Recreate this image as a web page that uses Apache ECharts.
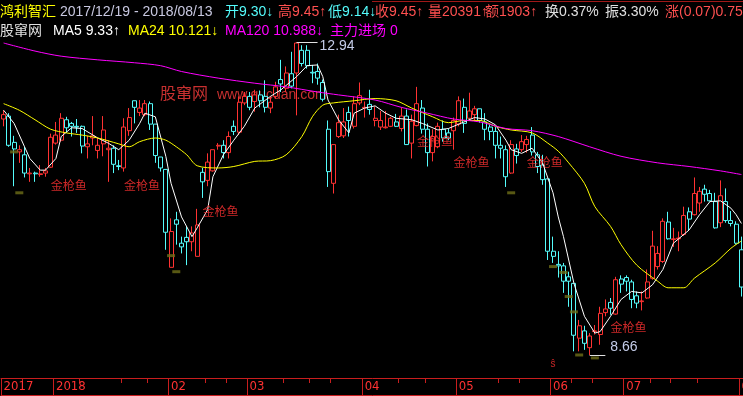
<!DOCTYPE html>
<html><head><meta charset="utf-8">
<script src="https://cdn.jsdelivr.net/npm/echarts@6/dist/echarts.min.js"></script>
<style>html,body{margin:0;padding:0;background:#000;}#c{width:743px;height:396px;}</style>
</head><body><div id="c"></div>
<script>
// ---- data ----
const openP = [11.89,11.93,11.57,11.44,11.40,11.14,11.15,11.13,11.15,11.23,11.56,11.60,11.88,11.83,11.79,11.79,11.51,11.63,11.46,11.55,11.47,11.49,11.25,11.22,11.73,12.14,11.98,11.95,12.10,11.82,11.37,11.20,9.86,10.51,10.19,10.27,10.21,10.01,11.16,11.05,11.18,11.52,11.53,11.43,11.79,11.71,12.11,12.20,12.13,12.22,12.20,12.04,12.20,12.43,12.31,12.51,12.52,12.83,12.83,12.53,12.54,12.39,11.75,11.01,11.65,11.66,11.98,11.79,12.11,12.04,12.09,11.87,11.78,11.77,11.79,11.85,11.76,11.93,11.56,11.80,12.04,11.75,11.43,11.51,11.75,11.70,11.73,11.82,12.05,11.90,11.95,12.03,11.85,11.78,11.72,11.53,11.47,11.15,11.48,11.47,11.54,11.67,11.40,11.26,11.07,10.08,9.90,9.88,9.73,9.64,8.89,8.99,8.76,8.98,8.94,9.24,9.38,9.22,9.70,9.72,9.66,9.47,9.39,9.44,9.71,9.87,9.94,10.48,10.24,10.25,10.31,10.62,10.58,10.74,10.93,10.87,10.76,10.47,10.76,10.50,10.45,10.10];
const closeP = [11.95,11.53,11.48,11.47,11.15,11.15,11.14,11.14,11.18,11.64,11.67,11.90,11.77,11.79,11.78,11.52,11.55,11.66,11.53,11.74,11.49,11.27,11.24,11.78,11.91,12.05,12.04,12.10,11.82,11.39,11.22,10.34,10.35,10.45,10.14,10.21,10.33,10.44,11.03,11.30,11.47,11.53,11.43,11.65,11.72,12.12,12.20,12.05,12.22,12.14,12.05,12.12,12.33,12.37,12.52,12.34,12.93,12.65,12.62,12.52,12.45,12.16,11.17,11.54,11.84,11.85,11.87,12.10,12.21,12.05,12.02,11.90,11.87,11.78,11.90,11.79,11.93,11.54,11.86,12.10,11.75,11.43,11.65,11.79,11.63,11.63,11.87,12.14,11.83,12.00,12.03,11.87,11.75,11.72,11.53,11.49,11.10,11.54,11.39,11.58,11.61,11.44,11.24,11.06,10.08,10.01,9.88,9.67,9.67,8.93,9.06,8.82,8.92,8.99,9.23,9.29,9.30,9.69,9.63,9.67,9.42,9.37,9.40,9.66,10.15,10.05,10.49,10.25,10.25,10.26,10.57,10.52,10.87,10.90,10.86,10.77,10.40,10.84,10.50,10.46,10.19,9.59];
const lowP = [11.79,11.51,10.97,11.29,11.09,11.03,11.03,11.10,11.10,11.22,11.54,11.58,11.70,11.65,11.70,11.42,11.35,11.53,11.35,11.38,11.03,11.15,11.19,11.17,11.66,11.83,11.93,11.93,11.74,11.29,11.17,10.10,9.86,10.17,10.05,9.89,10.08,10.01,10.81,10.97,11.17,11.47,11.35,11.35,11.67,11.67,12.08,12.01,11.99,12.05,11.98,11.97,12.17,12.26,12.26,12.31,11.94,12.61,12.58,12.38,12.36,12.13,10.96,10.87,11.63,11.63,11.65,11.76,12.08,11.91,11.95,11.79,11.74,11.76,11.78,11.78,11.72,11.54,11.35,11.79,11.69,11.24,11.31,11.49,11.58,11.60,11.47,11.79,11.70,11.87,11.87,11.84,11.60,11.60,11.35,11.35,10.96,11.14,11.28,11.44,11.43,11.39,11.15,10.99,9.96,9.92,9.72,9.51,9.32,8.71,8.71,8.73,8.66,8.94,8.80,9.19,9.21,9.21,9.51,9.53,9.30,9.30,9.27,9.43,9.69,9.83,9.92,10.24,10.14,10.08,10.29,10.37,10.57,10.62,10.76,10.76,10.39,10.41,10.47,10.42,10.17,9.46];
const highP = [12.01,11.97,11.66,11.53,11.51,11.22,11.17,11.26,11.22,11.69,11.85,11.97,11.92,11.85,11.89,11.80,11.66,11.93,11.63,11.93,11.60,11.53,11.33,11.90,12.04,12.14,12.15,12.15,12.13,11.82,11.37,11.20,10.53,10.62,10.28,10.42,10.42,10.66,11.22,11.42,11.47,11.56,11.60,11.72,11.87,12.20,12.26,12.26,12.29,12.28,12.42,12.20,12.40,12.70,12.61,12.81,12.94,12.90,12.90,12.63,12.65,12.43,11.87,11.54,11.95,12.04,12.06,12.20,12.39,12.13,12.29,12.06,12.00,12.00,11.92,11.96,12.05,12.02,11.95,12.33,12.15,11.83,11.75,11.84,11.87,11.76,11.91,12.20,12.17,12.25,12.07,12.03,11.97,11.81,11.78,11.65,11.53,11.60,11.55,11.67,11.66,11.78,11.44,11.40,11.07,10.28,10.08,9.92,9.80,9.64,9.14,9.06,8.96,9.07,9.32,9.42,9.44,9.73,9.75,9.75,9.69,9.53,9.53,9.83,10.36,10.15,10.53,10.62,10.40,10.35,10.69,10.68,11.09,10.96,10.99,10.92,10.88,11.05,10.94,10.63,10.49,10.28];

const ma5Idx = [0,2,4,5,7,8,10,11,13,15,18,20,22,24,26,27,29,31,32,34,36,37,39,40,42,44,46,48,51,53,56,58,60,61,62,64,66,67,69,71,73,75,78,80,83,85,88,90,92,94,96,97,99,101,103,105,106,107,109,111,113,114,116,118,120,122,124,126,128,131,133,135,137,139,140,141];
const ma5Val = [12.01,11.83,11.51,11.35,11.19,11.19,11.35,11.65,11.77,11.76,11.63,11.56,11.47,11.60,11.83,11.97,11.92,11.38,11.01,10.55,10.28,10.40,10.65,11.10,11.40,11.60,11.79,12.04,12.20,12.29,12.47,12.62,12.63,12.47,12.15,11.88,11.70,11.97,12.04,12.07,11.97,11.90,11.88,11.83,11.74,11.76,11.85,11.91,11.89,11.81,11.60,11.47,11.42,11.49,11.29,10.88,10.55,10.28,9.64,9.19,8.96,8.98,9.19,9.42,9.53,9.51,9.62,9.83,10.19,10.37,10.58,10.76,10.77,10.67,10.58,10.46];
const ma24Idx = [0,3,6,9,12,15,18,22,24,26,29,31,33,35,37,41,44,48,51,54,57,59,61,63,67,71,75,78,82,85,88,91,94,97,101,104,106,108,111,113,116,118,121,125,127,130,132,136,139,141];
const ma24Val = [12.10,12.01,11.88,11.75,11.70,11.67,11.63,11.55,11.51,11.58,11.63,11.60,11.51,11.40,11.25,11.22,11.24,11.31,11.32,11.40,11.65,11.92,12.08,12.11,12.14,12.17,12.14,12.04,11.92,11.84,11.87,11.87,11.79,11.74,11.70,11.56,11.45,11.29,11.01,10.69,10.42,10.17,9.89,9.67,9.58,9.58,9.71,9.92,10.12,10.22];
const ma120Idx = [0,6,11,18,25,30,34,41,48,54,60,64,71,76,81,86,91,96,101,106,112,118,125,131,137,141];
const ma120Val = [12.93,12.82,12.75,12.70,12.66,12.62,12.54,12.45,12.38,12.33,12.26,12.22,12.15,12.05,11.97,11.89,11.85,11.76,11.73,11.65,11.51,11.38,11.29,11.24,11.18,11.13];

const monthIdx = [0,10,32,47,69,87,105,119,141];
const monthLabels = ['2017','2018','02','03','04','05','06','07','08'];
const weekTickIdx = [4,15,23,28,39,43,54,59,63,76,81,95,99,109,113,124,128,133];

const signalIdx = [9,23,38,79,86,100,116];
const signalPrice = [10.98,10.98,10.62,11.58,11.29,11.29,9.04];
const signalText = '金枪鱼';

const markerIdx = [2,3,32,33,97,105,107,108,109,110,113];
const markerPrice = [11.44,10.88,10.02,9.80,10.88,9.87,9.79,9.46,9.25,8.66,8.62];
const flagIdx = [105];
const flagPrice = [8.53];

const header1 = ['鸿利智汇','2017/12/19 - 2018/08/13','开9.30↓','高9.45↑','低9.14↓','收9.45↑','量20391↑','额1903↑','换0.37%','振3.30%','涨(0.07)0.75'];
const header2 = ['股窜网','MA5 9.33↑','MA24 10.121↓','MA120 10.988↓','主力进场 0'];
const watermark = ['股窜网','www.gucuan.com'];

// ---- layout / style ----
const N = openP.length;
const cats = Array.from({length:N},(_,i)=>String(i));
const RED = '#FF3232', CYAN = '#54FCFC', AXR = '#C81E1E';
const LATIN = '"Liberation Sans", Arial, "Noto Sans CJK SC", sans-serif';
const h1x = [0,60,225,278,328,375,428,485,545,605,665];
const h1c = ['#FFFF00','#C8C8E0','#54FCFC','#FF5050','#54FCFC','#FF5050','#FF5050','#FF5050','#E0E0E0','#E0E0E0','#FF5050'];
const h2x = [0,53,128,225,330];
const h2c = ['#E0E0E0','#FFFFFF','#FFFF00','#FF00FF','#FF00FF'];

function sparse(idx, val){ const a = new Array(N).fill(null); idx.forEach((k,j)=>{a[k]=val[j];}); return a; }

const candles = openP.map((o,i)=>[o, closeP[i], lowP[i], highP[i]]);
let hi = 0, lo = 0;
highP.forEach((v,i)=>{ if(v>highP[hi]) hi=i; });
lowP.forEach((v,i)=>{ if(v<lowP[lo]) lo=i; });

const graphics = [];
header1.forEach((t,i)=>graphics.push({type:'text', x:h1x[i], y:12, z:10, style:{text:t, fill:h1c[i], font:'14px '+LATIN, verticalAlign:'middle'}}));
header2.forEach((t,i)=>graphics.push({type:'text', x:h2x[i], y:31, z:10, style:{text:t, fill:h2c[i], font:'14px '+LATIN, verticalAlign:'middle'}}));
graphics.push({type:'text', x:160, y:93, z:-1, style:{text:watermark[0], fill:'#C83030', font:'16px "Noto Sans CJK SC"', verticalAlign:'middle'}});
graphics.push({type:'text', x:217, y:95, z:-1, style:{text:watermark[1], fill:'#C83030', font:'14px '+LATIN, verticalAlign:'middle'}});
graphics.push({type:'line', z:10, shape:{x1:372, y1:1.5, x2:743, y2:1.5}, style:{stroke:'#A01818', lineWidth:1}});

const chart = echarts.init(document.getElementById('c'), null, {renderer:'canvas'});
chart.setOption({
  backgroundColor:'#000',
  animation:false,
  graphic: graphics,
  grid:{left:1, right:-1, top:0, bottom:18, containLabel:false, outerBoundsMode:'none'},
  xAxis:[
    {type:'category', data:cats, boundaryGap:true,
     axisLine:{show:true, lineStyle:{color:AXR, width:1}},
     axisTick:{show:true, length:5, interval:(i)=>weekTickIdx.includes(i), lineStyle:{color:AXR}},
     axisLabel:{show:false}, splitLine:{show:false}},
    {type:'category', data:cats, boundaryGap:true, position:'bottom', offset:17,
     axisLine:{show:true, lineStyle:{color:AXR, width:1}},
     axisTick:{show:true, inside:true, length:17, interval:(i)=>monthIdx.includes(i), lineStyle:{color:AXR}},
     axisLabel:{show:true, inside:true, margin:2, align:'left', interval:(i)=>monthIdx.includes(i),
       formatter:(v,i)=>monthLabels[monthIdx.indexOf(Number(v))] || '',
       color:RED, fontSize:13, fontFamily:'"Liberation Sans Narrow", "DejaVu Sans Condensed", sans-serif'},
     splitLine:{show:false}}
  ],
  yAxis:{type:'value', min:8.345, max:13.519, show:false, splitLine:{show:false}},
  series:[
    {type:'candlestick', name:'K', data:candles, barWidth:4.5,
     itemStyle:{color:'#000', color0:'#000', borderColor:RED, borderColor0:CYAN, borderColorDoji:RED, borderWidth:1},
     markLine:{silent:true, symbol:['none','none'], label:{show:false},
       lineStyle:{color:'#E0E0E0', width:1, type:'solid'},
       data:[[{coord:[hi, highP[hi]]},{coord:[hi+4, highP[hi]]}],[{coord:[lo, lowP[lo]]},{coord:[lo+3, lowP[lo]]}]]},
     markPoint:{silent:true, symbol:'circle', symbolSize:0,
       label:{show:true, color:'#C4CCE8', fontSize:14, fontFamily:LATIN, position:'right'},
       data:[{coord:[hi+4, highP[hi]], value:highP[hi].toFixed(2), label:{distance:2, offset:[0,4]}},
             {coord:[lo+3, lowP[lo]], value:lowP[lo].toFixed(2), label:{distance:5, offset:[0,-8]}}]}
    },
    {type:'line', name:'MA5', data:sparse(ma5Idx, ma5Val), connectNulls:true, showSymbol:false, symbol:'none', lineStyle:{color:'#FFFFFF', width:1}, z:3},
    {type:'line', name:'MA24', data:sparse(ma24Idx, ma24Val), connectNulls:true, showSymbol:false, symbol:'none', smooth:0.3, lineStyle:{color:'#FFFF00', width:1}, z:3},
    {type:'line', name:'MA120', data:sparse(ma120Idx, ma120Val), connectNulls:true, showSymbol:false, symbol:'none', smooth:0.3, lineStyle:{color:'#FF00FF', width:1}, z:3},
    {type:'scatter', name:'sig', data:signalIdx.map((k,j)=>[k, signalPrice[j]]), symbolSize:0, z:4,
     label:{show:true, formatter:signalText, position:'right', distance:0, color:RED, fontSize:12, fontFamily:'"Noto Sans CJK SC"'}},
    {type:'scatter', name:'mk', data:markerIdx.map((k,j)=>[k, markerPrice[j]]), symbol:'rect', symbolSize:[8,3], z:4,
     itemStyle:{color:'#6E6E18'}},
    {type:'scatter', name:'flag', data:flagIdx.map((k,j)=>[k, flagPrice[j]]), symbolSize:0, z:4,
     label:{show:true, formatter:'ŝ', position:'inside', color:RED, fontSize:10, fontFamily:LATIN}}
  ]
});
</script></body></html>
